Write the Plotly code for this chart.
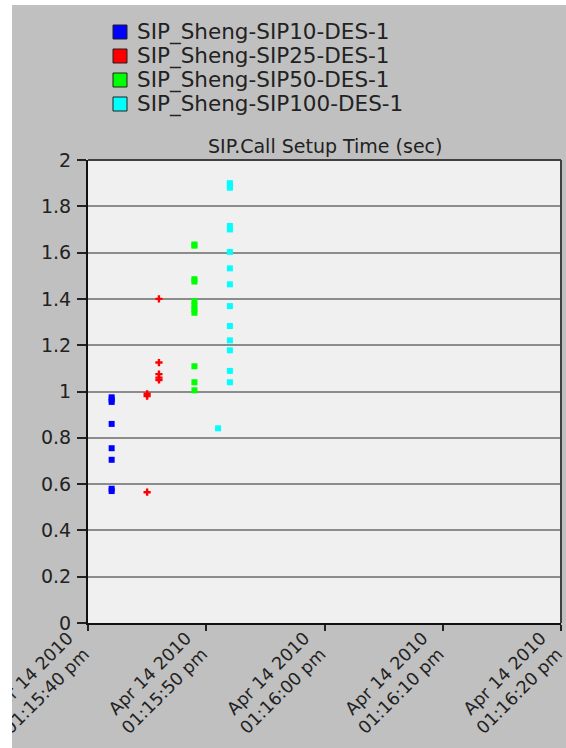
import plotly.graph_objects as go

# ---------------- data ----------------
series_names = ["SIP_Sheng-SIP10-DES-1", "SIP_Sheng-SIP25-DES-1",
                "SIP_Sheng-SIP50-DES-1", "SIP_Sheng-SIP100-DES-1"]
series_colors = ["#0000ff", "#ff0000", "#00ff00", "#00ffff"]

sip10_t = ["2010-04-14 13:15:42"] * 8
sip10_v = [0.975, 0.965, 0.955, 0.86, 0.755, 0.705, 0.58, 0.57]

sip25_t = ["2010-04-14 13:15:45"] * 3 + ["2010-04-14 13:15:46"] * 5
sip25_v = [0.99, 0.98, 0.565, 1.40, 1.125, 1.075, 1.06, 1.05]

sip50_t = ["2010-04-14 13:15:49"] * 11
sip50_v = [1.635, 1.63, 1.485, 1.475, 1.39, 1.37, 1.355, 1.34, 1.109, 1.04, 1.005]

sip100_t = ["2010-04-14 13:15:51"] + ["2010-04-14 13:15:52"] * 14
sip100_v = [0.841, 1.90, 1.89, 1.88, 1.715, 1.70, 1.603, 1.532, 1.463,
            1.369, 1.283, 1.221, 1.178, 1.089, 1.04]

x_tickvals = ["2010-04-14 13:15:40", "2010-04-14 13:15:50", "2010-04-14 13:16:00",
              "2010-04-14 13:16:10", "2010-04-14 13:16:20"]
x_ticktext = ["Apr 14 2010<br>01:15:40 pm", "Apr 14 2010<br>01:15:50 pm",
              "Apr 14 2010<br>01:16:00 pm", "Apr 14 2010<br>01:16:10 pm",
              "Apr 14 2010<br>01:16:20 pm"]
y_tickvals = [0, 0.2, 0.4, 0.6, 0.8, 1, 1.2, 1.4, 1.6, 1.8, 2]
y_ticktext = ["0", "0.2", "0.4", "0.6", "0.8", "1", "1.2", "1.4", "1.6", "1.8", "2"]
chart_title = "SIP.Call Setup Time (sec)"

# ---------------- layout geometry ----------------
W, H = 566, 748
ML, MR, MT, MB = 88, 5, 160, 125
PW, PH = W - ML - MR, H - MT - MB


def px_x(px):
    return (px - ML) / PW


def px_y(py):
    return (H - MB - py) / PH


FONT = "DejaVu Sans"
TXT = "#222222"

fig = go.Figure()
all_t = [sip10_t, sip25_t, sip50_t, sip100_t]
all_v = [sip10_v, sip25_v, sip50_v, sip100_v]
symbols = ["square", "cross", "square", "square"]
for name, col, t, v, sym in zip(series_names, series_colors, all_t, all_v, symbols):
    fig.add_trace(go.Scatter(
        x=t, y=v, mode="markers", name=name, showlegend=False,
        marker=dict(symbol=sym, size=6, color=col, line=dict(width=0)),
    ))

shapes = []
annotations = []
# white strips outside the grey panel
shapes.append(dict(type="rect", xref="paper", yref="paper", layer="above",
                   x0=px_x(-2), x1=px_x(12), y0=px_y(H + 2), y1=px_y(-2),
                   fillcolor="white", line=dict(width=0)))
shapes.append(dict(type="rect", xref="paper", yref="paper", layer="above",
                   x0=px_x(-2), x1=px_x(W + 2), y0=px_y(5), y1=px_y(-2),
                   fillcolor="white", line=dict(width=0)))

# custom legend
row_y = [32, 56, 80, 104]
for name, col, ry in zip(series_names, series_colors, row_y):
    shapes.append(dict(type="rect", xref="paper", yref="paper", layer="above",
                       x0=px_x(113), x1=px_x(127), y0=px_y(ry + 7), y1=px_y(ry - 7),
                       fillcolor=col, line=dict(color="#202020", width=1)))
    annotations.append(dict(text=name, xref="paper", yref="paper",
                            x=px_x(135), y=px_y(ry), xanchor="left", yanchor="middle",
                            showarrow=False, font=dict(family=FONT, size=21.5, color=TXT)))

# chart title
annotations.append(dict(text=chart_title, xref="paper", yref="paper",
                        x=0.5, y=px_y(146), xanchor="center", yanchor="middle",
                        showarrow=False, font=dict(family=FONT, size=19, color=TXT)))

# top and right plot borders
shapes.append(dict(type="line", xref="paper", yref="paper", layer="above",
                   x0=0, x1=1, y0=1, y1=1, line=dict(color="#404040", width=2)))
shapes.append(dict(type="line", xref="paper", yref="paper", layer="above",
                   x0=1, x1=1, y0=0, y1=1, line=dict(color="#404040", width=2)))

fig.update_layout(
    width=W, height=H,
    margin=dict(l=ML, r=MR, t=MT, b=MB, autoexpand=False),
    paper_bgcolor="#c0c0c0", plot_bgcolor="#f0f0f0",
    showlegend=False,
    shapes=shapes, annotations=annotations,
    font=dict(family=FONT, color=TXT),
)
fig.update_xaxes(
    type="date", range=["2010-04-14 13:15:40", "2010-04-14 13:16:20"],
    tickvals=x_tickvals, ticktext=x_ticktext, tickangle=-45,
    ticklabeloverflow="allow", ticklabelshift=-20, ticklabelstandoff=-10,
    ticks="outside", ticklen=6, tickwidth=2, tickcolor="#222",
    showgrid=False, zeroline=False,
    showline=True, linecolor="#111", linewidth=2,
    tickfont=dict(family=FONT, size=17.5, color=TXT),
)
fig.update_yaxes(
    range=[0, 2], tickvals=y_tickvals, ticktext=y_ticktext,
    ticks="outside", ticklen=9, tickwidth=2, tickcolor="#222",
    ticklabelstandoff=2,
    showgrid=True, gridcolor="#8c8c8c", gridwidth=2, zeroline=False,
    showline=True, linecolor="#111", linewidth=2,
    tickfont=dict(family=FONT, size=19, color=TXT),
)

fig.write_html("out.html", config={"displayModeBar": False},
               post_script="document.body.style.margin='0';document.body.style.overflow='hidden';")
